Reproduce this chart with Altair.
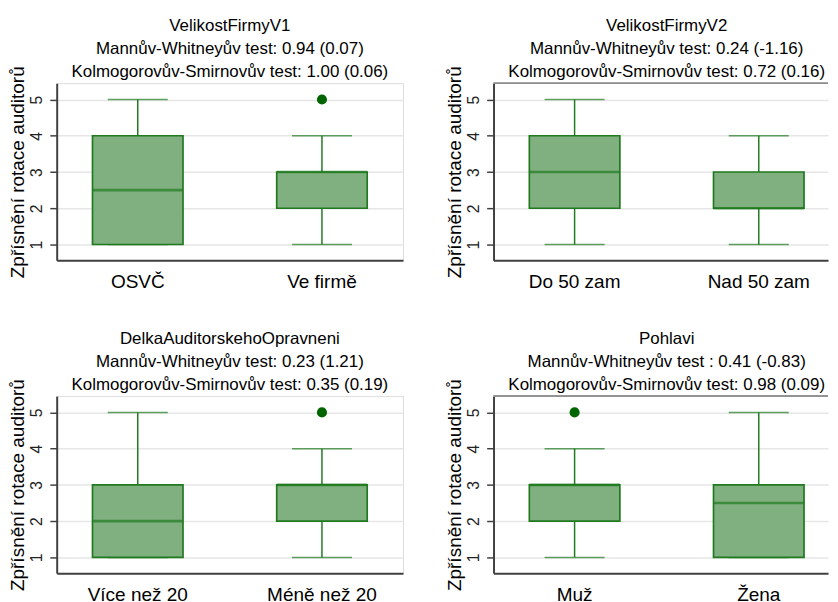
import altair as alt
import pandas as pd

# ---- data ----
panel_titles = [
    ["VelikostFirmyV1", "Mannův-Whitneyův test: 0.94 (0.07)", "Kolmogorovův-Smirnovův test: 1.00 (0.06)"],
    ["VelikostFirmyV2", "Mannův-Whitneyův test: 0.24 (-1.16)", "Kolmogorovův-Smirnovův test: 0.72 (0.16)"],
    ["DelkaAuditorskehoOpravneni", "Mannův-Whitneyův test: 0.23 (1.21)", "Kolmogorovův-Smirnovův test: 0.35 (0.19)"],
    ["Pohlavi", "Mannův-Whitneyův test : 0.41 (-0.83)", "Kolmogorovův-Smirnovův test: 0.98 (0.09)"],
]
panel_categories = [
    ["OSVČ", "Ve firmě"],
    ["Do 50 zam", "Nad 50 zam"],
    ["Více než 20", "Méně než 20"],
    ["Muž", "Žena"],
]
# per panel, per category: lower whisker, q1, median, q3, upper whisker
whisker_lo = [[1, 1], [1, 1], [1, 1], [1, 1]]
q1_vals = [[1, 2], [2, 2], [1, 2], [2, 1]]
median_vals = [[2.5, 3], [3, 2], [2, 3], [3, 2.5]]
q3_vals = [[4, 3], [4, 3], [3, 3], [3, 3]]
whisker_hi = [[5, 4], [5, 4], [5, 4], [4, 5]]
# outliers: (category index, value)
outliers = [[(1, 5)], [], [(1, 5)], [(0, 5)]]

y_title = "Zpřísnění rotace auditorů"
y_ticks = [1, 2, 3, 4, 5]

FONT = "Arial"
FILL = "#80b080"
STROKE = "#1f7a1f"
DOT = "#006400"
FRAME = "#8c8c8c"
AXIS = "#404040"
W_FULL, H = 352, 180
W_RIGHT = 340  # right column is cut by the window edge


def panel(i):
    right = i % 2 == 1
    width = W_RIGHT if right else W_FULL
    cats = panel_categories[i]
    df = pd.DataFrame({
        "cat": cats,
        "lo": whisker_lo[i],
        "q1": q1_vals[i],
        "med": median_vals[i],
        "q3": q3_vals[i],
        "hi": whisker_hi[i],
    })
    out = pd.DataFrame({
        "cat": [cats[c] for c, v in outliers[i]],
        "val": [v for c, v in outliers[i]],
    })
    if right:
        xscale = alt.Scale(paddingInner=0.3, paddingOuter=0.0581, align=0.776)
    else:
        xscale = alt.Scale(paddingInner=0.12, paddingOuter=0)
    x = alt.X("cat:N", sort=cats, title=None, scale=xscale,
              axis=alt.Axis(labelAngle=0, labelFontSize=19.3, labelFont=FONT,
                            labelColor="#000", ticks=False, labelPadding=12.5,
                            domainColor=AXIS, domainWidth=2, grid=False))
    yscale = alt.Scale(domain=[0.565, 5.45], nice=False, zero=False)
    yaxis = alt.Axis(values=y_ticks, title=y_title, titleFontSize=19.3,
                     titleFont=FONT, titleFontWeight="normal", titleColor="#000",
                     titlePadding=1.5, labelAngle=-90, labelAlign="center",
                     labelBaseline="bottom", labelFontSize=16, labelFont=FONT,
                     labelColor="#222", labelPadding=5, tickSize=7,
                     tickColor=AXIS, tickWidth=1.5,
                     domainColor=AXIS, domainWidth=2,
                     grid=True, gridColor="#e6e6e6", gridWidth=1.5)
    base = alt.Chart(df)
    rule = base.mark_rule(color=STROKE, strokeWidth=1.5).encode(
        x=x, y=alt.Y("lo:Q", scale=yscale, axis=yaxis), y2="hi:Q")
    caps_lo = base.mark_tick(color=STROKE, size=61, thickness=1.5).encode(
        x=x, y=alt.Y("lo:Q", scale=yscale))
    caps_hi = base.mark_tick(color=STROKE, size=61, thickness=1.5).encode(
        x=x, y=alt.Y("hi:Q", scale=yscale))
    box = base.mark_bar(size=92, fill=FILL, stroke=STROKE, strokeWidth=1.7).encode(
        x=x, y=alt.Y("q1:Q", scale=yscale), y2="q3:Q")
    med = base.mark_tick(color=STROKE, size=92, thickness=2.7).encode(
        x=x, y=alt.Y("med:Q", scale=yscale))
    layers = [rule, caps_lo, caps_hi, box, med]
    if len(out):
        dots = alt.Chart(out).mark_circle(size=105, color=DOT, opacity=1).encode(
            x=x, y=alt.Y("val:Q", scale=yscale))
        layers.append(dots)
    props = dict(
        width=width, height=H,
        title=alt.TitleParams(text=panel_titles[i], fontSize=17.2, font=FONT,
                              fontWeight="normal", color="#000",
                              lineHeight=23.5, offset=-15, anchor="middle",
                              dx=(W_FULL - width) / 2),
    )
    if right:
        top = base.mark_rule(color=FRAME, strokeWidth=1.5).encode(
            x=alt.value(0), x2=alt.value(width), y=alt.value(0))
        layers.append(top)
        props["view"] = alt.ViewBackground(stroke="transparent")
    return alt.layer(*layers).properties(**props)


chart = alt.concat(*[panel(i) for i in range(4)], columns=2,
                   spacing={"row": 138, "column": 92}, bounds="flush")
chart = chart.properties(padding={"left": 0.5, "top": 3.5, "right": 0, "bottom": 0}).configure_view(
    stroke=FRAME, strokeWidth=1.5).configure(background="white")

chart.save("out.html", embed_options={"renderer": "svg", "actions": False})
